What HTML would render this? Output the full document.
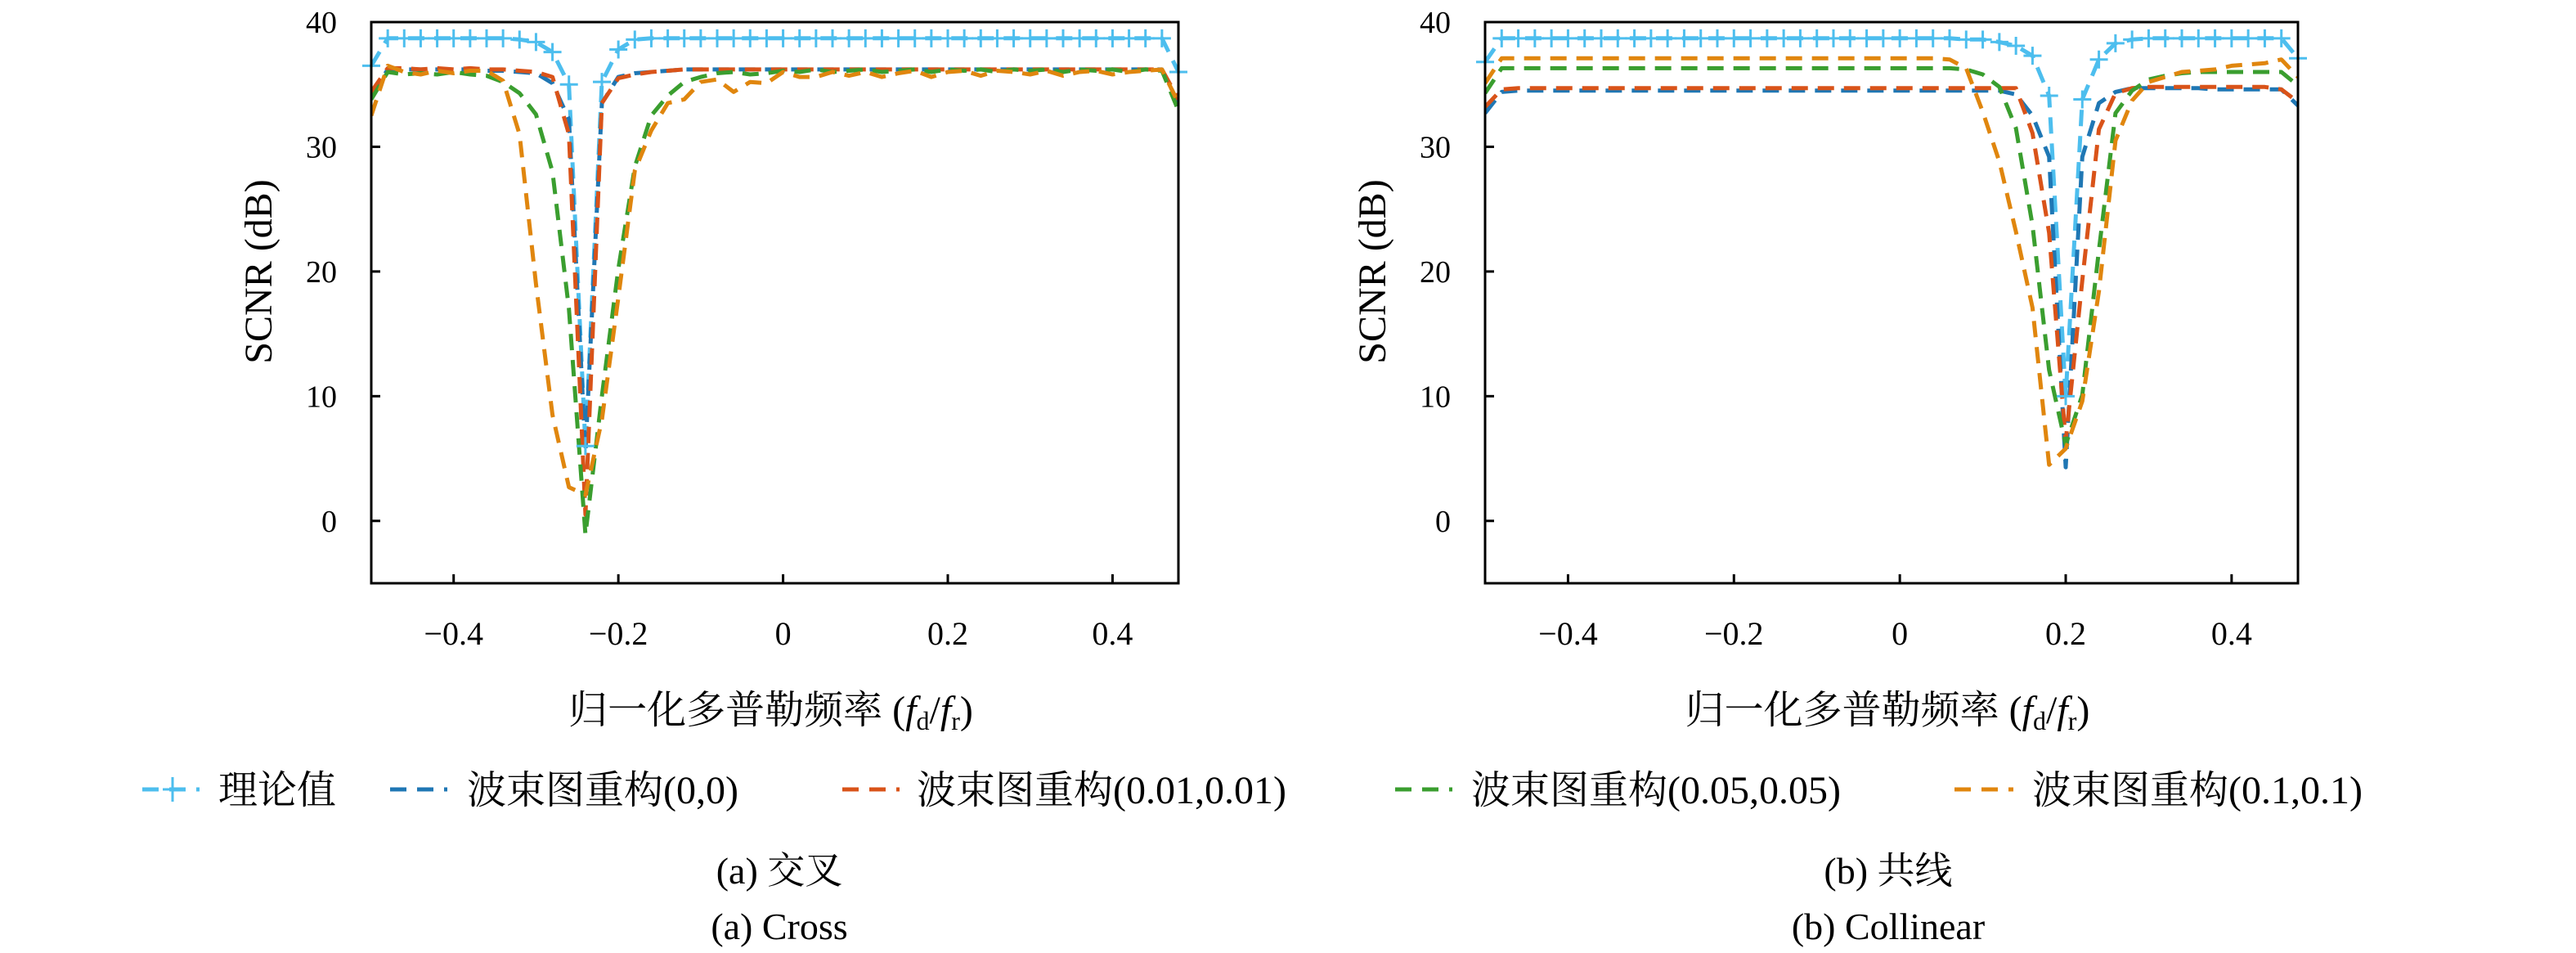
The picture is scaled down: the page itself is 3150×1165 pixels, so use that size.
<!DOCTYPE html>
<html><head><meta charset="utf-8"><style>
html,body{margin:0;padding:0;background:#fff;}
svg{display:block;}
text{font-family:"Liberation Serif","Noto Serif CJK SC",serif;fill:#000;}
</style></head><body>
<svg id="fig" width="3150" height="1165" viewBox="0 0 3150 1165" xmlns="http://www.w3.org/2000/svg"></svg>
<script>
const xValues = [];
for (let i = 0; i < 50; i++) xValues.push(+(-0.5 + 0.02 * i).toFixed(2));
const seriesNames = ['理论值','波束图重构(0,0)','波束图重构(0.01,0.01)','波束图重构(0.05,0.05)','波束图重构(0.1,0.1)'];
const yTicks = [0,10,20,30,40];
const xTicks = [-0.4,-0.2,0,0.2,0.4];
const xTickLabels = ['−0.4','−0.2','0','0.2','0.4'];
const yTickLabels = ['0','10','20','30','40'];

// Cross (a)
const crossTheory = [36.5,38.7,38.7,38.7,38.7,38.7,38.7,38.7,38.7,38.6,38.4,37.6,35.0,6.0,35.2,37.8,38.6,38.7,38.7,38.7,38.7,38.7,38.7,38.7,38.7,38.7,38.7,38.7,38.7,38.7,38.7,38.7,38.7,38.7,38.7,38.7,38.7,38.7,38.7,38.7,38.7,38.7,38.7,38.7,38.7,38.7,38.7,38.7,38.7,36.0];
const crossB0 = [34.1,36.2,36.2,36.2,36.2,36.2,36.2,36.1,36.1,36.0,35.9,35.1,32.2,5.5,33.5,35.6,35.9,36.0,36.1,36.2,36.2,36.2,36.2,36.2,36.2,36.2,36.2,36.2,36.2,36.2,36.2,36.2,36.2,36.2,36.2,36.2,36.2,36.2,36.2,36.2,36.2,36.2,36.2,36.2,36.2,36.2,36.2,36.2,36.2,33.5];
const crossB1 = [34.4,36.3,36.3,36.2,36.3,36.2,36.3,36.2,36.2,36.1,36.0,35.6,31.0,0.5,33.5,35.5,35.8,36.0,36.1,36.2,36.2,36.2,36.2,36.2,36.2,36.2,36.2,36.2,36.2,36.2,36.2,36.2,36.2,36.2,36.2,36.2,36.2,36.2,36.2,36.2,36.2,36.2,36.2,36.2,36.2,36.2,36.2,36.2,36.2,33.8];
const crossB5 = [33.8,36.0,35.8,35.9,35.8,36.0,35.8,35.7,35.2,34.3,32.6,28.0,17.0,-1.1,10.0,20.2,28.4,32.5,34.1,35.2,35.6,35.9,36.0,35.8,35.9,36.1,36.0,36.2,36.0,36.1,36.2,36.0,36.1,36.2,36.0,36.2,36.1,36.2,36.0,36.2,36.1,36.2,36.0,36.2,36.1,36.2,36.0,36.2,36.1,32.9];
const crossB10 = [32.5,36.5,36.0,35.8,36.1,35.9,36.1,36.1,35.3,31.0,19.0,8.5,2.7,2.1,8.1,17.9,28.1,31.3,33.5,33.8,35.2,35.4,34.4,35.2,35.1,36.0,35.6,35.6,36.0,35.7,36.0,35.6,35.9,36.1,35.6,36.0,36.1,35.7,36.1,36.0,35.8,36.1,35.7,36.0,36.1,35.8,36.0,36.1,36.2,33.5];

// Collinear (b)
const colTheory = [
36.8,38.7,38.7,38.7,38.7,38.7,38.7,38.7,38.7,38.7,
38.7,38.7,38.7,38.7,38.7,38.7,38.7,38.7,38.7,38.7,
38.7,38.7,38.7,38.7,38.7,38.7,38.7,38.7,38.7,38.6,
38.6,38.4,38.1,37.3,34.1,10.0,33.8,37.0,38.3,38.6,
38.7,38.7,38.7,38.7,38.7,38.7,38.7,38.7,38.7,37.1];
const colB0 = [
32.7,34.4,34.5,34.5,34.5,34.5,34.5,34.5,34.5,34.5,
34.5,34.5,34.5,34.5,34.5,34.5,34.5,34.5,34.5,34.5,
34.5,34.5,34.5,34.5,34.5,34.5,34.5,34.5,34.5,34.5,
34.5,34.5,34.2,32.5,29.2,4.3,29.2,33.5,34.4,34.7,
34.7,34.7,34.7,34.7,34.6,34.6,34.6,34.6,34.6,33.3];
const colB1 = [
33.2,34.6,34.7,34.7,34.7,34.7,34.7,34.7,34.7,34.7,
34.7,34.7,34.7,34.7,34.7,34.7,34.7,34.7,34.7,34.7,
34.7,34.7,34.7,34.7,34.7,34.7,34.7,34.7,34.7,34.7,
34.7,34.7,34.7,31.1,23.1,6.4,19.3,31.4,34.3,34.7,
34.8,34.8,34.8,34.8,34.8,34.8,34.8,34.8,34.6,33.6];
const colB5 = [
34.3,36.3,36.3,36.3,36.3,36.3,36.3,36.3,36.3,36.3,
36.3,36.3,36.3,36.3,36.3,36.3,36.3,36.3,36.3,36.3,
36.3,36.3,36.3,36.3,36.3,36.3,36.3,36.3,36.3,36.2,
35.8,34.8,31.5,23.7,12.1,6.1,10.1,21.7,32.7,34.5,
35.4,35.7,35.9,36.0,36.0,36.0,36.0,36.0,36.0,34.9];
const colB10 = [
35.1,37.1,37.1,37.1,37.1,37.1,37.1,37.1,37.1,37.1,
37.1,37.1,37.1,37.1,37.1,37.1,37.1,37.1,37.1,37.1,
37.1,37.1,37.1,37.1,37.1,37.1,37.1,37.1,37.0,36.3,
32.8,28.8,23.2,17.1,4.5,5.8,9.6,18.4,30.5,33.7,
35.2,35.6,36.0,36.1,36.2,36.5,36.6,36.7,37.0,35.6];

const colors = ['#4DBEEE','#1F77B4','#D95319','#3A9E2F','#E0860E'];
const NS = 'http://www.w3.org/2000/svg';
const svg = document.getElementById('fig');
function mk(tag, attrs, parent){const e=document.createElementNS(NS,tag);for(const k in attrs)e.setAttribute(k,attrs[k]);(parent||svg).appendChild(e);return e;}

function drawPanel(px, py, pw, ph, seriesList, key){
  const g = mk('g',{});
  
  
  const xmin=-0.5, xmax=0.48, ymin=-5, ymax=40;
  const X = v => px + (v - xmin)/(xmax - xmin)*pw;
  const Y = v => py + ph - (v - ymin)/(ymax - ymin)*ph;
  const clip = mk('clipPath',{id:'clip-'+key}, g);
  mk('rect',{x:px,y:py,width:pw,height:ph}, clip);
  const plot = mk('g',{'clip-path':'url(#clip-'+key+')'}, g);
  seriesList.forEach((vals, si) => {
    const d = vals.map((v,i)=> (i?'L':'M') + X(xValues[i]).toFixed(1) + ' ' + Y(v).toFixed(1)).join(' ');
    const p = mk('path',{d:d, fill:'none', stroke:colors[si], 'stroke-width':5, 'stroke-dasharray':'20 12', 'stroke-linejoin':'round'}, plot);
    
    
    if (si === 0) {
      vals.forEach((v,i)=>{
        const cx = X(xValues[i]), cy = Y(v);
        const m = mk('path',{d:`M${cx-11} ${cy}H${cx+11}M${cx} ${cy-11}V${cy+11}`, stroke:colors[0], 'stroke-width':3, fill:'none'}, g);
        
        
      });
    }
  });
  const frame = mk('rect',{x:px,y:py,width:pw,height:ph,fill:'none',stroke:'#000','stroke-width':3}, g);
  
  
  yTicks.forEach((t,i)=>{
    mk('line',{x1:px,x2:px+11,y1:Y(t),y2:Y(t),stroke:'#000','stroke-width':3}, g);
    const tx = mk('text',{x:px-42,y:Y(t)+13,'text-anchor':'end','font-size':38}, g);
    tx.textContent = yTickLabels[i];
    
    
  });
  xTicks.forEach((t,i)=>{
    mk('line',{x1:X(t),x2:X(t),y1:py+ph,y2:py+ph-11,stroke:'#000','stroke-width':3}, g);
    const tx = mk('text',{x:X(t),y:788,'text-anchor':'middle','font-size':40}, g);
    tx.textContent = xTickLabels[i];
    
    
  });
  const yl = mk('text',{x:0,y:0,'text-anchor':'middle','font-size':48,transform:`translate(${px-122},${py+305}) rotate(-90)`}, g);
  yl.textContent = 'SCNR (dB)';
  
  
  const xl = mk('text',{x:px+pw/2-5,y:884,'text-anchor':'middle','font-size':48}, g);
  xl.innerHTML = '归一化多普勒频率 (<tspan font-style="italic">f</tspan><tspan font-size="32" dy="8">d</tspan><tspan dy="-8">/</tspan><tspan font-style="italic">f</tspan><tspan font-size="32" dy="8">r</tspan><tspan dy="-8">)</tspan>';
  
  
}

drawPanel(454, 27, 987, 686, [crossTheory, crossB0, crossB1, crossB5, crossB10], 'cross');
drawPanel(1816, 27, 994, 686, [colTheory, colB0, colB1, colB5, colB10], 'collinear');

// legend
const legendLine = [[174,244,267],[477,547,571],[1030,1100,1121],[1706,1776,1799],[2390,2462,2485]];
seriesNames.forEach((nm,i)=>{
  const [a,b,t] = legendLine[i];
  const y = 965;
  const ln = mk('line',{x1:a,x2:b,y1:y,y2:y,stroke:colors[i],'stroke-width':5,'stroke-dasharray':'20 13'});
  
  
  if (i===0) {
    const m = mk('path',{d:`M${(a+b)/2+2-12} ${y}H${(a+b)/2+2+12}M${(a+b)/2+2} ${y-15}V${y+15}`,stroke:colors[0],'stroke-width':3,fill:'none'});
    
    
  }
  const tx = mk('text',{x:t,y:y+17,'font-size':48});
  tx.textContent = nm;
  
  
});

// captions
[['(a) 交叉',953,1080],['(a) Cross',953,1148],['(b) 共线',2309,1080],['(b) Collinear',2309,1148]].forEach((c,i)=>{
  const tx = mk('text',{x:c[1],y:c[2],'text-anchor':'middle','font-size':46});
  tx.textContent = c[0];
  
  
});
</script>
</body></html>
